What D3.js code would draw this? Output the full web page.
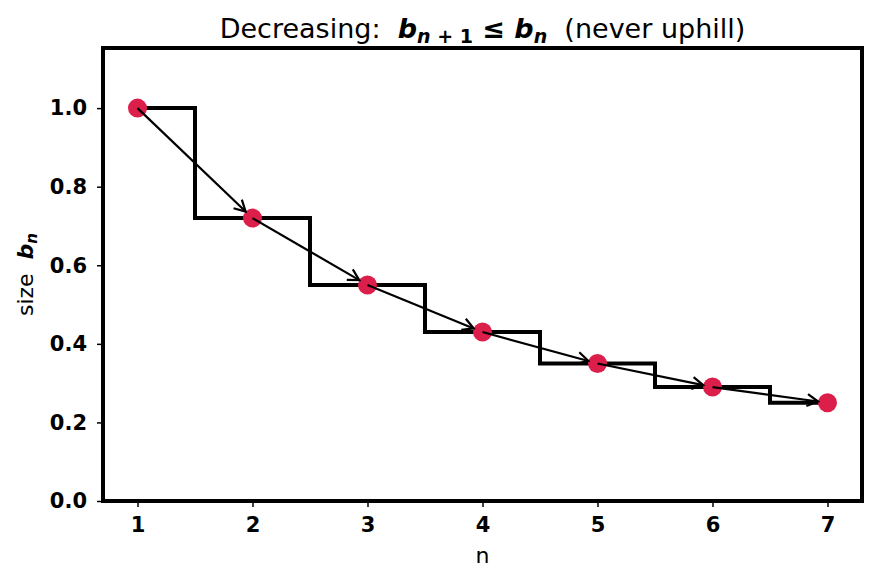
<!DOCTYPE html>
<html>
<head>
<meta charset="utf-8">
<script src="https://d3js.org/d3.v7.min.js"></script>
<style>
  body { margin: 0; background: #fff; }
  text { font-family: "DejaVu Sans", sans-serif; }
</style>
</head>
<body>
<div id="chart-area"></div>
<script>
// Data
var nValues = [1, 2, 3, 4, 5, 6, 7];
var bValues = [1.0, 0.72, 0.55, 0.43, 0.35, 0.29, 0.25];
var xTicks = [1, 2, 3, 4, 5, 6, 7];
var yTicks = [0.0, 0.2, 0.4, 0.6, 0.8, 1.0];

var margin = {top: 48, right: 14, bottom: 82, left: 103},
    width = 876 - margin.left - margin.right,
    height = 583 - margin.top - margin.bottom;

var svg = d3.select("#chart-area").append("svg")
    .attr("width", 876)
    .attr("height", 583);
var g = svg.append("g")
    .attr("transform", "translate(" + margin.left + "," + margin.top + ")");

// Scales
var x = d3.scaleLinear().domain([0.7, 7.3]).range([0, width]);
var y = d3.scaleLinear().domain([0, 1.153]).range([height, 0]);

// Arrow marker (open head)
svg.append("defs").append("marker")
    .attr("id", "arrow")
    .attr("viewBox", "-14 -8 16 16")
    .attr("refX", 0).attr("refY", 0)
    .attr("markerWidth", 16).attr("markerHeight", 16)
    .attr("markerUnits", "userSpaceOnUse")
    .attr("orient", "auto")
  .append("path")
    .attr("d", "M-11,-6L0,0L-11,6")
    .attr("fill", "none")
    .attr("stroke", "#000")
    .attr("stroke-width", 2.2);

// Step line (steps-mid)
var stepLine = d3.line()
    .x((d) => x(d[0]))
    .y((d) => y(d[1]))
    .curve(d3.curveStep);
g.append("path")
    .attr("d", stepLine(nValues.map((n, i) => [n, bValues[i]])))
    .attr("fill", "none")
    .attr("stroke", "#000")
    .attr("stroke-width", 4);

// Points
var r = 9.5;
g.selectAll(".pt")
    .data(nValues)
  .enter().append("circle")
    .attr("class", "pt")
    .attr("cx", (d) => x(d))
    .attr("cy", (d, i) => y(bValues[i]))
    .attr("r", r)
    .attr("fill", "#dc1e4b");

// Arrows between consecutive points
for (var i = 0; i < nValues.length - 1; i++) {
    var x0 = x(nValues[i]), y0 = y(bValues[i]);
    var x1 = x(nValues[i + 1]), y1 = y(bValues[i + 1]);
    var dx = x1 - x0, dy = y1 - y0, len = Math.sqrt(dx * dx + dy * dy);
    g.append("line")
        .attr("x1", x0).attr("y1", y0)
        .attr("x2", x1 - dx / len * r).attr("y2", y1 - dy / len * r)
        .attr("stroke", "#000")
        .attr("stroke-width", 2.2)
        .attr("marker-end", "url(#arrow)");
}

// Axes
var xAxis = g.append("g")
    .attr("transform", "translate(0," + height + ")")
    .call(d3.axisBottom(x).tickValues(xTicks).tickFormat(d3.format("d")).tickSize(6).tickPadding(10));
var yAxis = g.append("g")
    .call(d3.axisLeft(y).tickValues(yTicks).tickFormat(d3.format(".1f")).tickSize(6).tickPadding(10));

[xAxis, yAxis].forEach((a) => {
    a.select(".domain").remove();
    a.selectAll("line").attr("stroke", "#000").attr("stroke-width", 1.5);
    a.selectAll("text")
        .attr("fill", "#000")
        .style("font-size", "21px")
        .style("font-weight", "bold");
});

// Frame
g.append("rect")
    .attr("width", width).attr("height", height)
    .attr("fill", "none")
    .attr("stroke", "#000")
    .attr("stroke-width", 4);

// Title
var title = svg.append("text")
    .attr("x", margin.left + width / 2)
    .attr("y", 38)
    .attr("text-anchor", "middle")
    .style("font-size", "27px")
    .attr("xml:space", "preserve");
title.append("tspan").text("Decreasing:  ");
title.append("tspan").style("font-weight", "bold").style("font-style", "italic").text("b");
title.append("tspan").style("font-weight", "bold").style("font-style", "italic")
    .style("font-size", "19px").attr("dy", 5).text("n");
title.append("tspan").style("font-weight", "bold")
    .style("font-size", "19px").text(" + 1");
title.append("tspan").attr("dy", -5).style("font-weight", "bold").text(" \u2264 ");
title.append("tspan").style("font-weight", "bold").style("font-style", "italic").text("b");
title.append("tspan").style("font-weight", "bold").style("font-style", "italic")
    .style("font-size", "19px").attr("dy", 5).text("n");
title.append("tspan").attr("dy", -5).text("  (never uphill)");

// X label
svg.append("text")
    .attr("x", margin.left + width / 2)
    .attr("y", 563)
    .attr("text-anchor", "middle")
    .style("font-size", "22px")
    .text("n");

// Y label
var yl = svg.append("text")
    .attr("transform", "translate(33," + (margin.top + height / 2) + ") rotate(-90)")
    .attr("text-anchor", "middle")
    .style("font-size", "22px")
    .attr("xml:space", "preserve");
yl.append("tspan").text("size  ");
yl.append("tspan").style("font-weight", "bold").style("font-style", "italic").text("b");
yl.append("tspan").style("font-weight", "bold").style("font-style", "italic")
    .style("font-size", "15px").attr("dy", 4).text("n");
</script>
</body>
</html>
